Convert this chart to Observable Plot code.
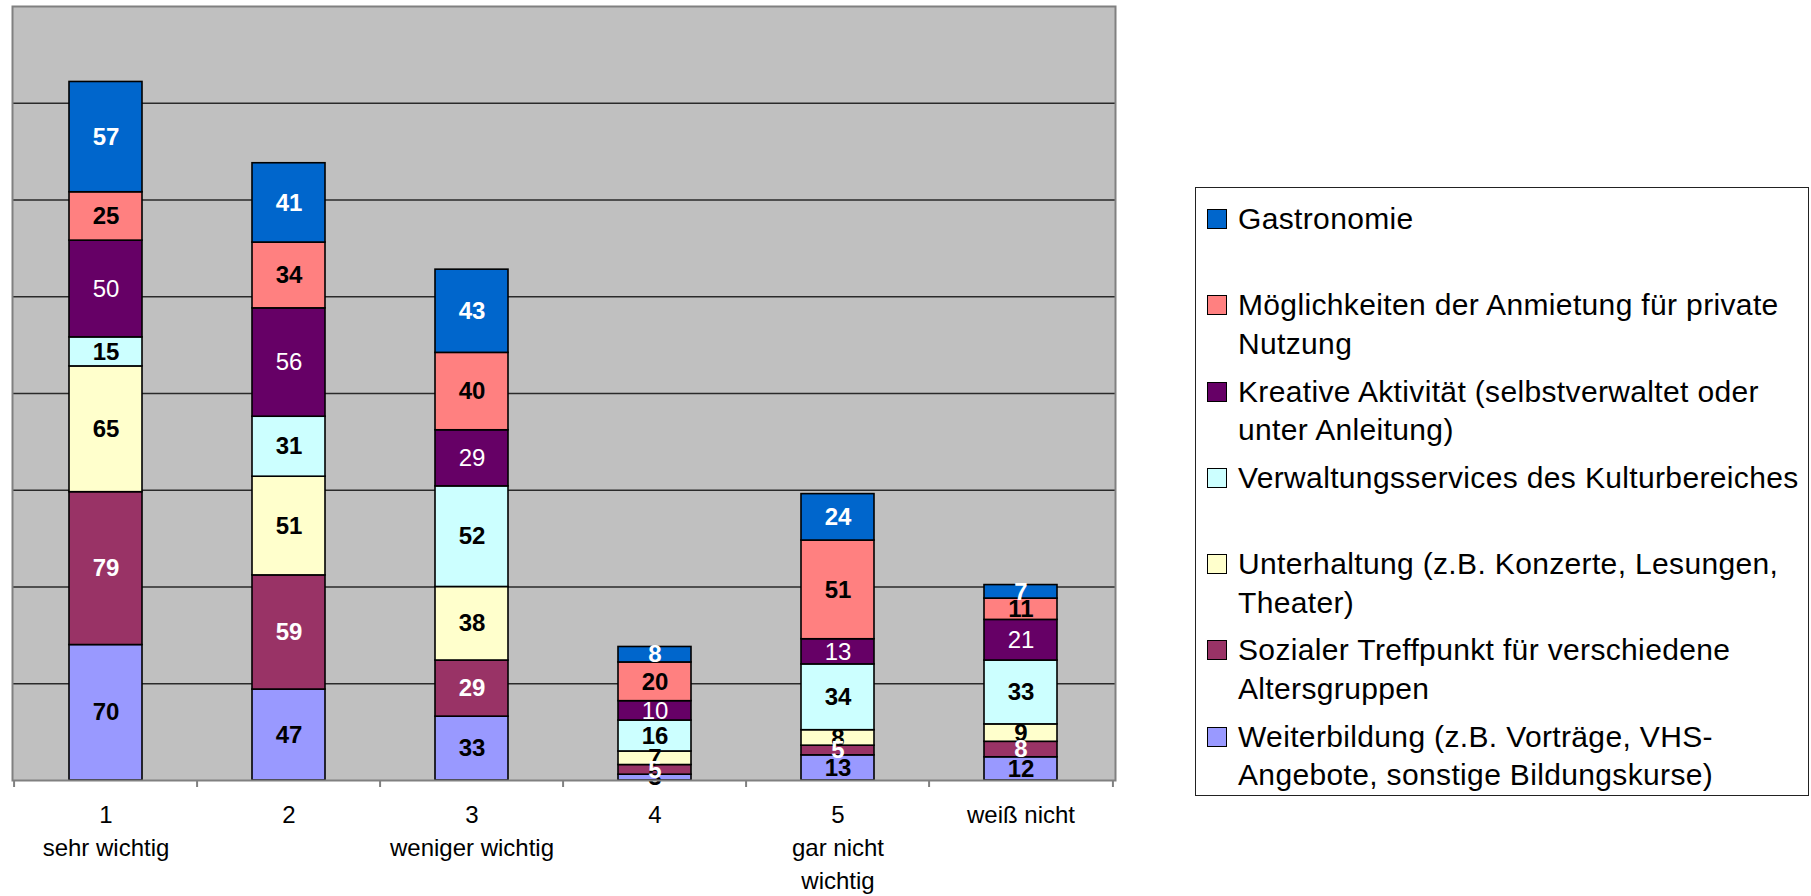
<!DOCTYPE html>
<html>
<head>
<meta charset="utf-8">
<script src="https://cdn.jsdelivr.net/npm/d3@7"></script>
<script src="https://cdn.jsdelivr.net/npm/@observablehq/plot@0.6"></script>
<style>
  body { margin: 0; background: #fff; font-family: "Liberation Sans", Arial, sans-serif; }
  #wrap { position: relative; width: 1811px; height: 896px; overflow: hidden; }
  #chart { position: absolute; left: 0; top: 0; }
  #legend { position: absolute; left: 1195px; top: 187px; width: 614px; height: 609px;
            border: 1px solid #222; box-sizing: border-box; padding-top: 12px; background: #fff; }
  .item { position: relative; height: 86.3px; padding-left: 42px; font-size: 30px; line-height: 38.5px;
          letter-spacing: 0.35px; white-space: pre; color: #000; }
  .sw { position: absolute; left: 11px; top: 9px; width: 18px; height: 18px; border: 1px solid #000; }
</style>
</head>
<body>
<div id="wrap"><div id="chart"></div><div id="legend"></div></div>
<script>
// Categories (x axis)
const categories = ["1", "2", "3", "4", "5", "weiß nicht"];
const tickLabels = ["1\nsehr wichtig", "2", "3\nweniger wichtig", "4", "5\ngar nicht\nwichtig", "weiß nicht"];

// Series, stacked bottom → top
const seriesNames = [
  "Weiterbildung (z.B. Vorträge, VHS-Angebote, sonstige Bildungskurse)",
  "Sozialer Treffpunkt für verschiedene Altersgruppen",
  "Unterhaltung (z.B. Konzerte, Lesungen, Theater)",
  "Verwaltungsservices des Kulturbereiches",
  "Kreative Aktivität (selbstverwaltet oder unter Anleitung)",
  "Möglichkeiten der Anmietung für private Nutzung",
  "Gastronomie"
];
const legendLabels = [
  "Weiterbildung (z.B. Vorträge, VHS-\nAngebote, sonstige Bildungskurse)",
  "Sozialer Treffpunkt für verschiedene\nAltersgruppen",
  "Unterhaltung (z.B. Konzerte, Lesungen,\nTheater)",
  "Verwaltungsservices des Kulturbereiches",
  "Kreative Aktivität (selbstverwaltet oder\nunter Anleitung)",
  "Möglichkeiten der Anmietung für private\nNutzung",
  "Gastronomie"
];
const seriesColors = ["#9999FF", "#993366", "#FFFFCC", "#CCFFFF", "#660066", "#FF8080", "#0066CC"];
// label style per series: "wb" white bold, "wn" white normal, "kb" black bold
const labelStyles = ["kb", "wb", "kb", "kb", "wn", "kb", "wb"];

const weiterbildung = [70, 47, 33, 3, 13, 12];
const sozial        = [79, 59, 29, 5, 5, 8];
const unterhaltung  = [65, 51, 38, 7, 8, 9];
const verwaltung    = [15, 31, 52, 16, 34, 33];
const kreativ       = [50, 56, 29, 10, 13, 21];
const anmietung     = [25, 34, 40, 20, 51, 11];
const gastronomie   = [57, 41, 43, 8, 24, 7];
const seriesValues = [weiterbildung, sozial, unterhaltung, verwaltung, kreativ, anmietung, gastronomie];

const yTicks = [50, 100, 150, 200, 250, 300, 350];

const rows = [];
seriesNames.forEach((s, si) => {
  categories.forEach((c, ci) => {
    rows.push({category: c, series: s, value: seriesValues[si][ci], style: labelStyles[si]});
  });
});

const W = 1180, H = 896, mL = 12, mR = 65, mT = 6, mB = 116;
const step = (W - mL - mR) / categories.length;

function labelMark(style, fill, weight) {
  return Plot.text(rows, Plot.stackY({
    x: "category", y: "value", z: "series",
    text: d => d.style === style ? String(d.value) : "",
    fill, fontWeight: weight, fontSize: 24,
    fontFamily: "Liberation Sans, Arial, sans-serif"
  }));
}

const chart = Plot.plot({
  width: W, height: H,
  marginLeft: mL, marginRight: mR, marginTop: mT, marginBottom: mB,
  style: {fontFamily: "Liberation Sans, Arial, sans-serif", background: "#fff"},
  x: {type: "band", domain: categories, paddingInner: 0.6, paddingOuter: 0.3, axis: null},
  y: {domain: [0, 400], axis: null},
  color: {domain: seriesNames, range: seriesColors},
  marks: [
    Plot.frame({fill: "#C0C0C0"}),
    Plot.gridY(yTicks, {stroke: "#2a2a2a", strokeOpacity: 1, strokeWidth: 1.3}),
    Plot.barY(rows, {x: "category", y: "value", fill: "series", stroke: "#000", strokeWidth: 1.6}),
    labelMark("kb", "#000", "bold"),
    labelMark("wb", "#fff", "bold"),
    labelMark("wn", "#fff", "normal"),
    Plot.frame({stroke: "#808080", strokeWidth: 2}),
    Plot.ruleX(categories, {x: d => d, y1: 0, y2: 0, insetBottom: -7, dx: -step / 2, stroke: "#808080", strokeWidth: 2}),
    Plot.ruleX(categories.slice(-1), {x: d => d, y1: 0, y2: 0, insetBottom: -7, dx: step / 2, stroke: "#808080", strokeWidth: 2}),
    Plot.text(categories, {
      x: d => d, text: (d, i) => tickLabels[i],
      frameAnchor: "bottom", lineAnchor: "top", dy: 19,
      fontSize: 24, lineHeight: 1.38, fill: "#000"
    })
  ]
});
document.getElementById("chart").appendChild(chart);

// Legend (top → bottom = reverse stack order)
const legend = document.getElementById("legend");
for (let i = seriesNames.length - 1; i >= 0; i--) {
  const item = document.createElement("div");
  item.className = "item";
  const sw = document.createElement("span");
  sw.className = "sw";
  sw.style.background = seriesColors[i];
  item.appendChild(sw);
  item.appendChild(document.createTextNode(legendLabels[i]));
  legend.appendChild(item);
}
</script>
</body>
</html>
